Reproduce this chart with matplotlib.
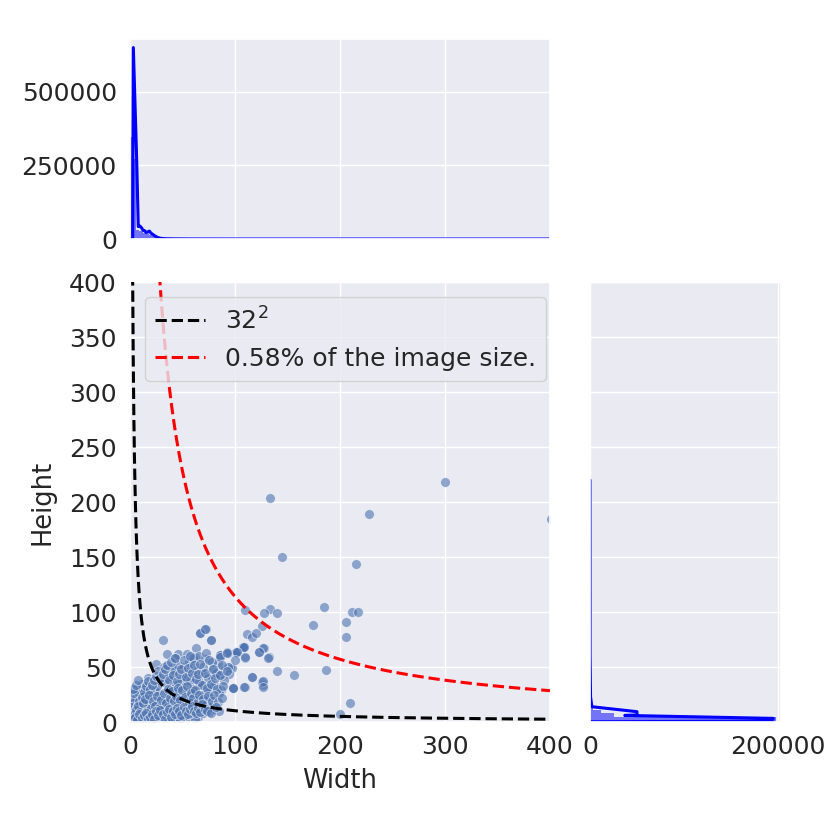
import matplotlib
matplotlib.use("Agg")
import matplotlib.pyplot as plt
import numpy as np
import seaborn as sns

sns.set_theme(style="darkgrid")
plt.rcParams.update({
    "font.family": ["DejaVu Sans"],
    "font.size": 18,
    "xtick.labelsize": 18,
    "ytick.labelsize": 18,
    "axes.labelsize": 18.5,
    "legend.fontsize": 18,
})

# scatter sample of box sizes (width, height) in pixels
widths = [
    300, 133, 228, 401, 145, 215, 185, 110, 133, 140, 128, 211, 217, 206, 174, 206,
    126, 111, 116, 120, 108, 128, 123, 132, 101, 93, 86, 72, 67, 77, 140, 156,
    187, 210, 200, 131, 127, 123, 110, 110, 116, 127, 126, 108, 102, 95, 98,
    31, 67, 77, 63, 71, 35, 46, 54, 43, 71, 62, 86, 92, 101, 108, 84, 90, 97,
    25, 32, 40, 51, 59, 78, 70, 78, 60, 51, 36, 27, 17, 46, 67, 76, 87, 98,
    116, 127, 127, 109, 59, 40, 27, 14, 5, 70, 52, 36, 24, 13, 3, 63, 46, 30,
    17, 8, 56, 40, 25, 14, 5, 2, 48, 33, 21,
    86, 92, 109, 102, 100, 110, 93, 98, 94, 85,
    2, 3, 4, 5, 6, 7, 8, 9, 10, 11, 12, 13, 14, 15, 16, 17, 18, 19, 20, 21,
    22, 23, 24, 25, 26, 27, 28, 29, 30, 31, 32, 33, 34, 35, 36, 37, 38, 39, 40,
    41, 42, 43, 44, 45, 46, 47, 48, 49, 50, 51, 52, 53, 54, 55, 56, 57, 58, 60,
    62, 63, 64, 66, 68, 70, 72, 74, 76, 78, 80, 82, 85, 88, 90,
    3, 4, 6, 8, 5, 7, 10, 12, 9, 14, 11, 15, 2, 1, 3, 6, 10, 15, 20, 25, 30,
    35, 40, 45, 50, 55, 60, 65, 70, 75, 80, 85, 62, 58, 52, 48, 44, 36, 28, 22,
    18, 16, 20, 24, 26, 32, 38, 42, 46, 56, 60, 66, 72, 2, 1, 4, 3, 6, 8,
    5, 7, 9, 11, 13, 15, 17, 19, 21, 23, 25, 27, 29, 31, 33, 35, 37, 39, 41,
    43, 45, 47, 49, 51, 53, 55, 57, 59, 61, 63, 65, 67, 69, 71, 73, 75, 77,
    79, 81, 83, 86, 89, 92,
    4, 6, 8, 10, 12, 14, 16, 18, 20, 22, 24, 26, 28, 30, 32, 34, 36, 38, 40,
    42, 44, 46, 48, 50, 52, 54, 56, 58, 60, 62, 64, 66, 68, 70, 72, 74, 76,
    78, 80, 84, 88,
    3, 5, 7, 9, 11, 13, 15, 17, 19, 21, 23, 25, 27, 29, 31, 33, 35, 37, 39,
    41, 43, 45, 47, 49, 51, 53, 55, 57, 59, 61, 63, 65, 67, 69, 71, 73, 77, 82,
]
heights = [
    218, 204, 189, 185, 150, 144, 105, 102, 103, 99, 99, 100, 100, 91, 88, 77,
    87, 80, 77, 81, 68, 67, 64, 59, 64, 63, 61, 85, 81, 75, 46, 43,
    47, 17, 7, 58, 67, 64, 58, 32, 41, 34, 36, 68, 64, 50, 31,
    75, 81, 75, 67, 85, 62, 62, 62, 58, 57, 59, 61, 64, 64, 68, 53, 47, 49,
    53, 50, 49, 50, 51, 47, 44, 41, 41, 38, 40, 38, 40, 34, 35, 32, 29, 31,
    41, 37, 32, 32, 28, 28, 26, 29, 26, 25, 20, 22, 20, 19, 17, 16, 14, 13,
    13, 11, 9, 8, 6, 6, 5, 2, 5, 3, 2,
    59, 63, 68, 64, 56, 59, 50, 31, 44, 43,
    3, 5, 2, 8, 4, 6, 3, 10, 5, 7, 2, 12, 9, 4, 14, 6, 11, 3, 8, 16,
    5, 13, 9, 18, 4, 11, 22, 7, 15, 25, 10, 19, 6, 28, 14, 23, 9, 31, 17,
    4, 26, 12, 35, 20, 8, 29, 15, 40, 24, 11, 33, 18, 44, 27, 7, 37, 21, 30,
    14, 46, 25, 36, 19, 50, 28, 40, 22, 55, 34, 45, 26, 52, 38,
    12, 18, 22, 27, 15, 30, 20, 24, 16, 30, 35, 26, 9, 6, 1, 1, 1, 2, 2, 3, 3,
    4, 2, 5, 3, 4, 6, 5, 8, 9, 12, 10, 3, 8, 6, 2, 9, 7, 5, 9,
    17, 21, 24, 28, 33, 36, 42, 47, 52, 55, 58, 60, 63, 20, 14, 26, 30, 34, 38,
    10, 14, 19, 23, 27, 33, 37, 30, 34, 38, 42, 46, 40, 44, 48, 52, 38, 55,
    43, 58, 37, 44, 48, 56, 41, 49, 60, 45, 52, 39, 44, 53, 34, 45, 31, 56,
    35, 48, 40, 30, 43, 33, 46,
    7, 11, 15, 9, 17, 21, 10, 25, 13, 19, 15, 24, 13, 20, 26, 17, 30, 22, 28,
    19, 24, 31, 20, 29, 23, 33, 18, 26, 22, 29, 17, 25, 12, 21, 16, 24, 14,
    19, 25, 18, 22,
    3, 5, 2, 7, 4, 6, 8, 3, 5, 7, 3, 10, 6, 11, 7, 3, 9, 12, 5, 10, 7, 13,
    10, 6, 14, 10, 7, 12, 15, 10, 8, 13, 9, 16, 12, 10, 8, 14,
]

# marginal histogram of widths (filled bars + outline)
width_edges = [0, 3, 6, 9, 12, 15, 18, 21, 24, 27, 30, 40, 60, 80, 111]
width_counts = [346000, 270000, 30000, 26000, 22000, 18000, 14000, 9000, 6000,
                3000, 1500, 800, 400, 200]
width_line_x = [2.6, 3.2, 6.3, 7.9, 9.5, 11, 12.5, 14, 15.5, 17, 18.5, 20, 22,
                24, 26, 28, 30, 35, 45, 60, 100, 400]
width_line_c = [0, 649000, 279000, 42000, 44000, 38000, 30000, 28000, 22000,
                24000, 27000, 20000, 15000, 10000, 6000, 3500, 2000, 1000, 500,
                200, 50, 0]

# marginal histogram of heights
height_edges = [0, 5, 8, 11, 15, 20, 30, 50, 100, 220]
height_counts = [198000, 26000, 12000, 3000, 1500, 900, 500, 300, 150]
height_line_y = [0.2, 0.8, 3.3, 6.0, 6.4, 9.4, 13.9, 23, 60, 220]
height_line_c = [0, 193000, 195000, 37000, 50000, 50000, 2000, 600, 100, 0]

small_area = 32 ** 2
image_area = 1920 * 1024
ratio = 0.0058

fig = plt.figure(figsize=(8.3, 8.3), dpi=100)
ax = fig.add_axes([0.1566, 0.1301, 0.5060, 0.5301])
ax_top = fig.add_axes([0.1566, 0.7120, 0.5060, 0.2410], sharex=ax)
ax_right = fig.add_axes([0.7108, 0.1301, 0.2300, 0.5301], sharey=ax)

ax.scatter(widths, heights, s=50, color="#4c72b0", alpha=0.6,
           edgecolor="white", linewidth=0.6, zorder=2)

curve_w = np.linspace(0.5, 400, 2000)
ax.plot(curve_w, small_area / curve_w, "--", color="black", lw=2.2,
        label=r"$32^2$", zorder=3)
ax.plot(curve_w, ratio * image_area / curve_w, "--", color="red", lw=2.2,
        label="0.58% of the image size.", zorder=3)

ax.set_xlim(0, 400)
ax.set_ylim(0, 400)
ax.set_xticks([0, 100, 200, 300, 400])
ax.set_yticks(np.arange(0, 401, 50))
ax.set_xlabel("Width", labelpad=6)
ax.set_ylabel("Height", labelpad=10)
ax.legend(loc="upper left", borderaxespad=0.6)

# top marginal
ax_top.stairs(width_counts, width_edges, fill=True, color="blue", alpha=0.5,
              linewidth=0)
ax_top.plot(width_line_x, width_line_c, color="blue", lw=2.2)
ax_top.set_ylim(0, 678000)
ax_top.set_yticks([0, 250000, 500000])
ax_top.tick_params(axis="x", labelbottom=False)

# right marginal
ax_right.stairs(height_counts, height_edges, fill=True, color="blue",
                alpha=0.5, linewidth=0, orientation="horizontal")
ax_right.plot(height_line_c, height_line_y, color="blue", lw=2.2)
ax_right.set_xlim(0, 203000)
ax_right.set_xticks([0, 200000])
ax_right.tick_params(axis="y", labelleft=False)

fig.savefig("out.png", dpi=100)
